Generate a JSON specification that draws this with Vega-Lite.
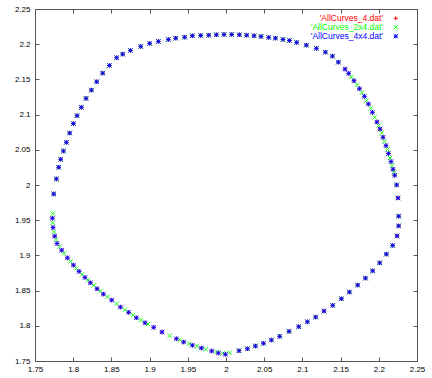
{
 "$schema": "https://vega.github.io/schema/vega-lite/v6.json",
 "width": 382, "height": 352,
 "autosize": "none",
 "padding": {"left": 35, "top": 9, "right": 15, "bottom": 17},
 "background": "white",
 "config": {"view": {"stroke": "#555555", "strokeWidth": 1}, "font": "Liberation Sans"},
 "data": {"values": [
  {"x":1.7745,"y":1.9873,"r":1,"g":1,"b":1},{"x":1.7780,"y":2.0086,"r":1,"g":1,"b":1},{"x":1.7810,"y":2.0252,"r":1,"g":1,"b":1},{"x":1.7836,"y":2.0365,"r":1,"g":1,"b":1},
  {"x":1.7872,"y":2.0483,"r":1,"g":1,"b":1},{"x":1.7911,"y":2.0606,"r":1,"g":1,"b":1},{"x":1.7954,"y":2.0738,"r":1,"g":1,"b":1},{"x":1.8003,"y":2.0872,"r":1,"g":1,"b":1},
  {"x":1.8050,"y":2.0985,"r":1,"g":1,"b":1},{"x":1.8107,"y":2.1103,"r":1,"g":1,"b":1},{"x":1.8168,"y":2.1230,"r":1,"g":1,"b":1},{"x":1.8238,"y":2.1348,"r":1,"g":1,"b":1},
  {"x":1.8308,"y":2.1467,"r":1,"g":1,"b":1},{"x":1.8386,"y":2.1589,"r":1,"g":1,"b":1},{"x":1.8474,"y":2.1698,"r":1,"g":1,"b":1},{"x":1.8569,"y":2.1808,"r":1,"g":1,"b":1},
  {"x":1.8648,"y":2.1859,"r":1,"g":1,"b":1},{"x":1.8749,"y":2.1911,"r":1,"g":1,"b":1},{"x":1.8884,"y":2.1968,"r":1,"g":1,"b":1},{"x":1.9001,"y":2.2011,"r":1,"g":1,"b":1},
  {"x":1.9115,"y":2.2039,"r":1,"g":1,"b":1},{"x":1.9246,"y":2.2067,"r":1,"g":1,"b":1},{"x":1.9342,"y":2.2086,"r":1,"g":1,"b":1},{"x":1.9459,"y":2.2100,"r":1,"g":1,"b":1},
  {"x":1.9560,"y":2.2120,"r":1,"g":1,"b":1},{"x":1.9669,"y":2.2124,"r":1,"g":1,"b":1},{"x":1.9774,"y":2.2128,"r":1,"g":1,"b":1},{"x":1.9874,"y":2.2134,"r":1,"g":1,"b":1},
  {"x":1.9974,"y":2.2138,"r":1,"g":1,"b":1},{"x":2.0075,"y":2.2138,"r":1,"g":1,"b":1},{"x":2.0175,"y":2.2134,"r":1,"g":1,"b":1},{"x":2.0271,"y":2.2128,"r":1,"g":1,"b":1},
  {"x":2.0367,"y":2.2120,"r":1,"g":1,"b":1},{"x":2.0458,"y":2.2110,"r":1,"g":1,"b":1},{"x":2.0559,"y":2.2096,"r":1,"g":1,"b":1},{"x":2.0647,"y":2.2086,"r":1,"g":1,"b":1},
  {"x":2.0746,"y":2.2067,"r":1,"g":1,"b":1},{"x":2.0830,"y":2.2053,"r":1,"g":1,"b":1},{"x":2.0925,"y":2.2025,"r":1,"g":1,"b":1},{"x":2.1052,"y":2.1986,"r":1,"g":1,"b":1},
  {"x":2.1183,"y":2.1940,"r":1,"g":1,"b":1},{"x":2.1301,"y":2.1887,"r":1,"g":1,"b":1},{"x":2.1393,"y":2.1830,"r":1,"g":1,"b":1},{"x":2.1471,"y":2.1745,"r":1,"g":1,"b":1},
  {"x":2.1558,"y":2.1646,"r":1,"b":1},{"x":2.1606,"y":2.1585,"r":1,"b":1},{"x":2.1675,"y":2.1481,"r":1,"b":1},{"x":2.1746,"y":2.1368,"r":1,"b":1},
  {"x":2.1812,"y":2.1259,"r":1,"b":1},{"x":2.1864,"y":2.1150,"r":1,"b":1},{"x":2.1916,"y":2.1032,"r":1,"b":1},{"x":2.1976,"y":2.0894,"r":1,"b":1},
  {"x":2.2016,"y":2.0795,"r":1,"b":1},{"x":2.2055,"y":2.0677,"r":1,"b":1},{"x":2.2094,"y":2.0559,"r":1,"b":1},{"x":2.2126,"y":2.0446,"r":1,"b":1},
  {"x":2.2160,"y":2.0333,"r":1,"b":1},{"x":2.2186,"y":2.0223,"r":1,"b":1},{"x":2.2208,"y":2.0138,"r":1,"b":1},
  {"x":2.2234,"y":2.0001,"r":1,"g":1,"b":1},{"x":2.2251,"y":1.9816,"r":1,"g":1,"b":1},{"x":2.2260,"y":1.9557,"r":1,"g":1,"b":1},{"x":2.2260,"y":1.9419,"r":1,"g":1,"b":1},
  {"x":2.2238,"y":1.9277,"r":1,"g":1,"b":1},{"x":2.2182,"y":1.9141,"r":1,"g":1,"b":1},{"x":2.2099,"y":1.9018,"r":1,"g":1,"b":1},{"x":2.2012,"y":1.8894,"r":1,"g":1,"b":1},
  {"x":2.1920,"y":1.8781,"r":1,"g":1,"b":1},{"x":2.1825,"y":1.8677,"r":1,"g":1,"b":1},{"x":2.1724,"y":1.8578,"r":1,"g":1,"b":1},{"x":2.1615,"y":1.8479,"r":1,"g":1,"b":1},
  {"x":2.1510,"y":1.8384,"r":1,"g":1,"b":1},{"x":2.1397,"y":1.8290,"r":1,"g":1,"b":1},{"x":2.1283,"y":1.8209,"r":1,"g":1,"b":1},{"x":2.1174,"y":1.8124,"r":1,"g":1,"b":1},
  {"x":2.1065,"y":1.8057,"r":1,"g":1,"b":1},{"x":2.0952,"y":1.7987,"r":1,"g":1,"b":1},{"x":2.0825,"y":1.7921,"r":1,"g":1,"b":1},{"x":2.0703,"y":1.7850,"r":1,"g":1,"b":1},
  {"x":2.0594,"y":1.7798,"r":1,"g":1,"b":1},{"x":2.0490,"y":1.7751,"r":1,"g":1,"b":1},{"x":2.0385,"y":1.7713,"r":1,"g":1,"b":1},{"x":2.0280,"y":1.7674,"r":1,"g":1,"b":1},
  {"x":2.0170,"y":1.7646,"r":1,"g":1,"b":1},
  {"x":1.7728,"y":1.9528,"r":1,"b":1},{"x":1.7736,"y":1.9396,"r":1,"b":1},{"x":1.7758,"y":1.9273,"r":1,"b":1},{"x":1.7788,"y":1.9169,"r":1,"b":1},
  {"x":1.7849,"y":1.9074,"r":1,"b":1},{"x":1.7924,"y":1.8965,"r":1,"b":1},{"x":1.8003,"y":1.8862,"r":1,"b":1},{"x":1.8076,"y":1.8772,"r":1,"b":1},
  {"x":1.8154,"y":1.8687,"r":1,"b":1},{"x":1.8225,"y":1.8611,"r":1,"b":1},{"x":1.8312,"y":1.8526,"r":1,"b":1},{"x":1.8395,"y":1.8450,"r":1,"b":1},
  {"x":1.8504,"y":1.8365,"r":1,"b":1},{"x":1.8618,"y":1.8266,"r":1,"b":1},{"x":1.8726,"y":1.8191,"r":1,"b":1},{"x":1.8827,"y":1.8114,"r":1,"b":1},
  {"x":1.8940,"y":1.8043,"r":1,"b":1},{"x":1.9054,"y":1.7978,"r":1,"b":1},{"x":1.9162,"y":1.7911,"r":1,"b":1},{"x":1.9351,"y":1.7816,"r":1,"b":1},
  {"x":1.9446,"y":1.7769,"r":1,"b":1},{"x":1.9560,"y":1.7723,"r":1,"b":1},{"x":1.9678,"y":1.7684,"r":1,"b":1},{"x":1.9813,"y":1.7642,"r":1,"b":1},
  {"x":1.9900,"y":1.7613,"r":1,"b":1},{"x":1.9992,"y":1.7595,"r":1,"b":1},
  {"x":1.7732,"y":1.9595,"g":1},{"x":1.7732,"y":1.9462,"g":1},{"x":1.7749,"y":1.9334,"g":1},{"x":1.7775,"y":1.9226,"g":1},
  {"x":1.7819,"y":1.9127,"g":1},{"x":1.7880,"y":1.9028,"g":1},{"x":1.7967,"y":1.8914,"g":1},{"x":1.8042,"y":1.8815,"g":1},
  {"x":1.8115,"y":1.8730,"g":1},{"x":1.8194,"y":1.8649,"g":1},{"x":1.8272,"y":1.8574,"g":1},{"x":1.8356,"y":1.8493,"g":1},
  {"x":1.8448,"y":1.8412,"g":1},{"x":1.8569,"y":1.8313,"g":1},{"x":1.8678,"y":1.8228,"g":1},{"x":1.8783,"y":1.8152,"g":1},
  {"x":1.8884,"y":1.8082,"g":1},{"x":1.8979,"y":1.8025,"g":1},{"x":1.9263,"y":1.7859,"g":1},{"x":1.9394,"y":1.7802,"g":1},
  {"x":1.9516,"y":1.7745,"g":1},{"x":1.9620,"y":1.7709,"g":1},{"x":1.9734,"y":1.7666,"g":1},{"x":1.9874,"y":1.7628,"g":1},
  {"x":1.9957,"y":1.7609,"g":1},{"x":2.0048,"y":1.7618,"g":1},
  {"x":2.1641,"y":2.1533,"g":1},{"x":2.1715,"y":2.1425,"g":1},{"x":2.1780,"y":2.1311,"g":1},{"x":2.1838,"y":2.1198,"g":1},
  {"x":2.1894,"y":2.1089,"g":1},{"x":2.1946,"y":2.0961,"g":1},{"x":2.1999,"y":2.0843,"g":1},{"x":2.2038,"y":2.0738,"g":1},
  {"x":2.2073,"y":2.0620,"g":1},{"x":2.2113,"y":2.0503,"g":1},{"x":2.2147,"y":2.0384,"g":1},{"x":2.2173,"y":2.0276,"g":1},
  {"x":2.2199,"y":2.0177,"g":1}
 ]},
 "transform": [{"fold": ["r", "g", "b"], "as": ["k", "v"]}, {"filter": "datum.v == 1"}],
 "layer": [
  {
   "mark": {"type": "point", "filled": false, "strokeWidth": 0.9, "size": 20, "opacity": 1},
   "encoding": {
    "x": {"field": "x", "type": "quantitative", "scale": {"domain": [1.75, 2.25], "nice": false, "zero": false},
      "axis": {"orient": "bottom", "title": null, "values": [1.75,1.8,1.85,1.9,1.95,2,2.05,2.1,2.15,2.2,2.25], "format": "~g",
        "grid": false, "domain": false, "tickSize": -4, "tickColor": "#555555", "labelPadding": 8, "labelFontSize": 8, "labelColor": "#000000",
        "labelFlush": false, "labelOverlap": false, "labelBound": false}},
    "y": {"field": "y", "type": "quantitative", "scale": {"domain": [1.75, 2.25], "nice": false, "zero": false},
      "axis": {"orient": "left", "title": null, "values": [1.75,1.8,1.85,1.9,1.95,2,2.05,2.1,2.15,2.2,2.25], "format": "~g",
        "grid": false, "domain": false, "tickSize": -4, "tickColor": "#555555", "labelPadding": 9, "labelFontSize": 8, "labelColor": "#000000",
        "labelFlush": false, "labelOverlap": false, "labelBound": false}},
    "color": {"field": "k", "type": "nominal", "scale": {"domain": ["r", "g", "b"], "range": ["#ff0000", "#00ff00", "#0000ff"]},
      "legend": {"title": null, "orient": "none", "legendX": 356.5, "legendY": 5, "padding": 0, "labelAlign": "right", "labelOffset": -17,
        "labelFontSize": 8.5, "rowPadding": -2.5, "symbolSize": 16, "symbolStrokeWidth": 1,
        "labelColor": {"expr": "datum.value == 'r' ? '#ff0000' : datum.value == 'g' ? '#00ff00' : '#0000ff'"},
        "labelExpr": "datum.label == 'r' ? \"'AllCurves_4.dat'\" : datum.label == 'g' ? \"'AllCurves_2x4.dat'\" : \"'AllCurves_4x4.dat'\""}},
    "shape": {"field": "k", "type": "nominal", "scale": {"domain": ["r", "g", "b"], "range": ["M-1,0L1,0M0,-1L0,1", "M-1,-1L1,1M-1,1L1,-1", "M-1,0L1,0M0,-1L0,1M-1,-1L1,1M-1,1L1,-1"]},
      "legend": {"title": null, "orient": "none", "legendX": 356.5, "legendY": 5, "padding": 0, "labelAlign": "right", "labelOffset": -17,
        "labelFontSize": 8.5, "rowPadding": -2.5, "symbolSize": 16, "symbolStrokeWidth": 1,
        "labelColor": {"expr": "datum.value == 'r' ? '#ff0000' : datum.value == 'g' ? '#00ff00' : '#0000ff'"},
        "labelExpr": "datum.label == 'r' ? \"'AllCurves_4.dat'\" : datum.label == 'g' ? \"'AllCurves_2x4.dat'\" : \"'AllCurves_4x4.dat'\""}},
    "order": {"field": "k", "sort": "descending"}
   }
  },
  {
   "mark": {"type": "point", "opacity": 0},
   "encoding": {
    "x": {"field": "x", "type": "quantitative", "scale": {"domain": [1.75, 2.25], "nice": false, "zero": false},
      "axis": {"orient": "top", "title": null, "values": [1.75,1.8,1.85,1.9,1.95,2,2.05,2.1,2.15,2.2,2.25], "labels": false,
        "grid": false, "domain": false, "tickSize": -4, "tickColor": "#555555"}},
    "y": {"field": "y", "type": "quantitative", "scale": {"domain": [1.75, 2.25], "nice": false, "zero": false},
      "axis": {"orient": "right", "title": null, "values": [1.75,1.8,1.85,1.9,1.95,2,2.05,2.1,2.15,2.2,2.25], "labels": false,
        "grid": false, "domain": false, "tickSize": -4, "tickColor": "#555555"}}
   }
  }
 ],
 "resolve": {"axis": {"x": "independent", "y": "independent"}}
}
